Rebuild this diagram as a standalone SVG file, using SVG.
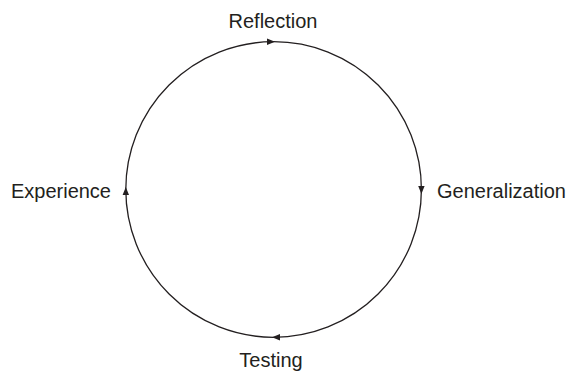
<svg xmlns="http://www.w3.org/2000/svg" xmlns:xlink="http://www.w3.org/1999/xlink" width="573" height="372" viewBox="0 0 573 372">
  <style>
    .label { font-family: "Liberation Sans", Arial, sans-serif; font-size: 20px; fill: #231f20; }
    .ring { fill: none; stroke: #231f20; stroke-width: 1.3; }
    .head { fill: #231f20; }
  </style>
  <defs>
    <!-- arrowhead pointing along +x, tip at origin -->
    <path id="tip" class="head" d="M0,0 L-8,-3.2 L-8,3.2 Z"/>
  </defs>
  <rect width="573" height="372" fill="#ffffff"/>

  <g id="connectors">
    <circle class="ring" cx="273.6" cy="189.5" r="147.8"/>
    <use xlink:href="#tip" transform="translate(275,41.7)"/>
    <use xlink:href="#tip" transform="translate(421.4,194) rotate(90)"/>
    <use xlink:href="#tip" transform="translate(272,337.3) rotate(180)"/>
    <use xlink:href="#tip" transform="translate(125.8,187) rotate(-90)"/>
  </g>

  <g id="reflection">
    <text class="label" x="273" y="28" text-anchor="middle">Reflection</text>
  </g>
  <g id="generalization">
    <text class="label" x="437" y="198">Generalization</text>
  </g>
  <g id="testing">
    <text class="label" x="271" y="367" text-anchor="middle">Testing</text>
  </g>
  <g id="experience">
    <text class="label" x="111" y="198" text-anchor="end">Experience</text>
  </g>
</svg>
